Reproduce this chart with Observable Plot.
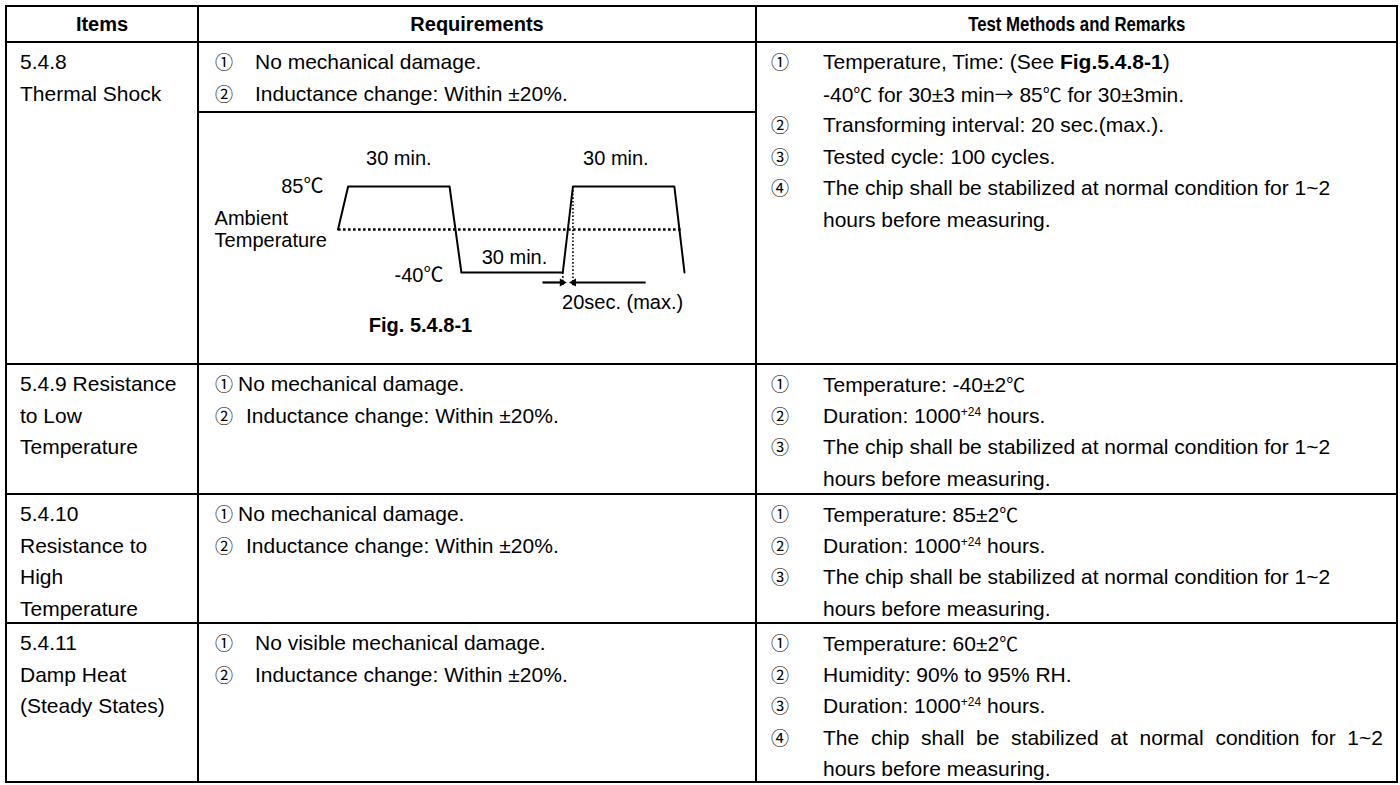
<!DOCTYPE html>
<html><head><meta charset="utf-8">
<script src="https://cdn.jsdelivr.net/npm/d3@7"></script>
<script src="https://cdn.jsdelivr.net/npm/@observablehq/plot@0.6"></script>
<style>
html,body{margin:0;padding:0;background:#fff;}
#page{position:relative;width:1400px;height:785px;overflow:hidden;font-family:"Liberation Sans",Arial,"Noto Sans CJK JP",sans-serif;color:#000;}
.ln{position:absolute;background:#000;}
.t{position:absolute;white-space:pre;line-height:31.5px;font-size:21px;}
.mk{position:absolute;line-height:31.5px;font-family:"Noto Sans CJK JP";font-size:18px;}
.h{position:absolute;font-weight:bold;font-size:20px;text-align:center;line-height:36px;}
.h span{display:inline-block;}
.cj{font-family:"Noto Sans CJK JP";font-size:0.9em;}
sup{font-size:12px;line-height:0;vertical-align:0.6em;}
#fig{position:absolute;left:199px;top:114px;}
#fig svg{overflow:visible;}
.just{text-align:justify;text-align-last:justify;white-space:normal;}
</style></head><body><div id="page"><div id="fig"></div></div>
<script>
// ---- table content ----
const headers = ["Items", "Requirements", "Test Methods and Remarks"];
const itemLabels = [
  ["5.4.8", "Thermal Shock"],
  ["5.4.9 Resistance", "to Low", "Temperature"],
  ["5.4.10", "Resistance to", "High", "Temperature"],
  ["5.4.11", "Damp Heat", "(Steady States)"]
];
// requirement lines: [marker, text, layout]  ("tab" = text at tab stop, "inline" = text follows marker)
const requirements = [
  [["①", "No mechanical damage.", "tab"], ["②", "Inductance change: Within ±20%.", "tab"]],
  [["①", "No mechanical damage.", "inline"], ["②", "Inductance change: Within ±20%.", "inline2"]],
  [["①", "No mechanical damage.", "inline"], ["②", "Inductance change: Within ±20%.", "inline2"]],
  [["①", "No visible mechanical damage.", "tab"], ["②", "Inductance change: Within ±20%.", "tab"]]
];
const chipText = "The chip shall be stabilized at normal condition for 1~2";
const C = "<span class=cj>℃</span>";
const methods = [
  [["①", "Temperature, Time: (See <b>Fig.5.4.8-1</b>)"], ["", "-40" + C + " for 30±3 min<span class=cj>→</span> 85" + C + " for 30±3min."],
   ["②", "Transforming interval: 20 sec.(max.)."], ["③", "Tested cycle: 100 cycles."],
   ["④", chipText], ["", "hours before measuring."]],
  [["①", "Temperature: -40±2" + C], ["②", "Duration: 1000<sup>+24</sup> hours."],
   ["③", chipText], ["", "hours before measuring."]],
  [["①", "Temperature: 85±2" + C], ["②", "Duration: 1000<sup>+24</sup> hours."],
   ["③", chipText], ["", "hours before measuring."]],
  [["①", "Temperature: 60±2" + C], ["②", "Humidity: 90% to 95% RH."],
   ["③", "Duration: 1000<sup>+24</sup> hours."], ["④", chipText, "justify"], ["", "hours before measuring."]]
];

// ---- figure data (thermal shock profile: time in min, temperature in °C) ----
const profileTime = [0, 3, 33, 36.5, 66.5, 69.5, 99.5, 102.5];
const profileTemp = [22.5, 85, 85, -40, -40, 85, 85, -40];
const ambientTemp = 22.5;
const ambientStart = 0, ambientEnd = 102;
const guideTime = [66.5, 69.5];
const guideTop = [-40, 85];
const guideBottom = -59;
const arrowTemp = -54.5;
const arrowFrom = [60.5, 91];
const arrowTo = [66.3, 69.7];
const midLabels = ["30 min.", "30 min.", "30 min.", "20sec. (max.)"];
const midLabelTime = [18, 82.2, 52.2, 84.2];
const midLabelTemp = [126, 126, -18, -84];
const endLabels = ["85℃", "-40℃"];
const endLabelTime = [-4.3, 31.2];
const endLabelTemp = [85, -44];
const startLabels = ["Ambient", "Temperature"];
const startLabelTime = [-36.5, -36.5];
const startLabelTemp = [38.5, 6.5];
const captionText = ["Fig. 5.4.8-1"];
const captionTime = [24.4];
const captionTemp = [-117];

// ---- layout ----
const page = document.getElementById("page");
const X = [5, 197, 755, 1396];
const Y = [5, 41, 363, 493, 622, 781];
function line(x, y, w, h) { const d = document.createElement("div"); d.className = "ln"; Object.assign(d.style, {left: x + "px", top: y + "px", width: w + "px", height: h + "px"}); page.appendChild(d); }
Y.forEach(y => line(X[0], y, X[3] - X[0] + 2, 2));
X.forEach(x => line(x, Y[0], 2, Y[5] - Y[0] + 2));
line(X[1], 111, X[2] - X[1] + 2, 2);
function el(cls, x, y, html, extra) { const d = document.createElement("div"); d.className = cls; d.style.left = x + "px"; d.style.top = y + "px"; d.innerHTML = html; if (extra) Object.assign(d.style, extra); page.appendChild(d); return d; }

headers.forEach((h, i) => {
  const d = el("h", X[i] + 2, Y[0] + 1, "<span>" + h + "</span>", {width: (X[i + 1] - X[i] - 2) + "px"});
  if (i === 2) Object.assign(d.firstChild.style, {fontSize: "21px", transform: "scaleX(0.8)"});
});
const LH = 31.5;
itemLabels.forEach((lines, r) => lines.forEach((s, i) => el("t", 20, Y[r + 1] + 5 + i * LH, s)));
const reqTextX = {tab: 255, inline: 238, inline2: 246};
requirements.forEach((lines, r) => lines.forEach(([m, s, mode], i) => {
  const y = Y[r + 1] + 5 + i * LH;
  el("mk", 215, y, m);
  el("t", reqTextX[mode], y, s);
}));
methods.forEach((lines, r) => lines.forEach(([m, s, mode], i) => {
  const y = Y[r + 1] + 5 + i * LH;
  if (m) el("mk", 771, y, m);
  if (mode === "justify") el("t just", 823, y, s, {width: "560px"});
  else el("t", 823, y, s);
}));

// ---- figure ----
const profile = profileTime.map((t, i) => ({t, temp: profileTemp[i]}));
const guides = guideTime.map((t, i) => ({t, top: guideTop[i], bottom: guideBottom}));
const arrows = arrowFrom.map((a, i) => ({from: a, to: arrowTo[i], temp: arrowTemp, dir: i === 0 ? 90 : -90}));
const mk = (txt, tt, tp) => txt.map((s, i) => ({s, t: tt[i], temp: tp[i]}));
const font = "'Liberation Sans', Arial, 'Noto Sans CJK JP', sans-serif";
const fig = Plot.plot({
  width: 556, height: 240,
  marginLeft: 138.5, marginRight: 71, marginTop: 72, marginBottom: 82,
  x: {domain: [0, 102.5], axis: null},
  y: {domain: [-40, 85], axis: null},
  style: {fontFamily: font, fontSize: "20px", background: "transparent", overflow: "visible"},
  marks: [
    Plot.link([{x1: ambientStart, x2: ambientEnd, y: ambientTemp}], {x1: "x1", x2: "x2", y1: "y", y2: "y", stroke: "#000", strokeWidth: 2.6, strokeDasharray: "2.6,2.4"}),
    Plot.line(profile, {x: "t", y: "temp", stroke: "#000", strokeWidth: 2}),
    Plot.link(guides, {x1: "t", x2: "t", y1: "top", y2: "bottom", stroke: "#000", strokeWidth: 1.6, strokeDasharray: "1.6,2"}),
    Plot.link(arrows, {x1: "from", x2: "to", y1: "temp", y2: "temp", stroke: "#000", strokeWidth: 2.2}),
    Plot.dot(arrows, {x: "to", y: "temp", symbol: "triangle2", r: 3.8, rotate: "dir", fill: "#000", stroke: "none"}),
    Plot.text(mk(midLabels, midLabelTime, midLabelTemp), {x: "t", y: "temp", text: "s", textAnchor: "middle", fontSize: 20, fill: "#000"}),
    Plot.text(mk(endLabels, endLabelTime, endLabelTemp), {x: "t", y: "temp", text: "s", textAnchor: "end", fontSize: 20, fill: "#000"}),
    Plot.text(mk(startLabels, startLabelTime, startLabelTemp), {x: "t", y: "temp", text: "s", textAnchor: "start", fontSize: 20, fill: "#000"}),
    Plot.text(mk(captionText, captionTime, captionTemp), {x: "t", y: "temp", text: "s", textAnchor: "middle", fontSize: 20, fontWeight: "bold", fill: "#000"})
  ]
});
document.getElementById("fig").appendChild(fig);
</script>
</body></html>
